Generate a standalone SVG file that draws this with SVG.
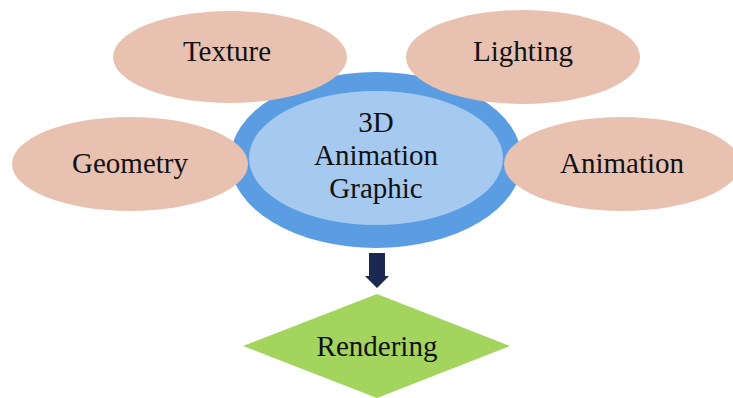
<svg xmlns="http://www.w3.org/2000/svg" width="733" height="398" viewBox="0 0 733 398">
<style>
.petal{fill:#e8c1b1}
.t{font-family:"Liberation Serif",serif;font-size:29px;fill:#111;text-anchor:middle}
</style>
<rect width="733" height="398" fill="#ffffff"/>
<g id="center">
<ellipse cx="376" cy="160" rx="146" ry="88" fill="#5b9de3"/>
<ellipse cx="376" cy="158" rx="127" ry="67" fill="#a6c9f0"/>
<text class="t" x="376" y="132">3D</text>
<text class="t" x="376" y="165">Animation</text>
<text class="t" x="376" y="198">Graphic</text>
</g>
<g id="texture">
<ellipse class="petal" cx="230" cy="57" rx="117" ry="46"/>
<text class="t" x="227" y="61">Texture</text>
</g>
<g id="lighting">
<ellipse class="petal" cx="523" cy="57" rx="117" ry="47"/>
<text class="t" x="523" y="61">Lighting</text>
</g>
<g id="geometry">
<ellipse class="petal" cx="130" cy="164" rx="118" ry="47"/>
<text class="t" x="130" y="173">Geometry</text>
</g>
<g id="animation">
<ellipse class="petal" cx="622" cy="164" rx="118" ry="47"/>
<text class="t" x="622" y="173">Animation</text>
</g>
<g id="connectors">
<polygon points="369,253 385,253 385,276 389,276 377,288 365,276 369,276" fill="#1b2852"/>
</g>
<g id="rendering">
<polygon points="377,294 510,346 377,398 243,346" fill="#a3d55e"/>
<text class="t" x="377" y="356">Rendering</text>
</g>
</svg>
